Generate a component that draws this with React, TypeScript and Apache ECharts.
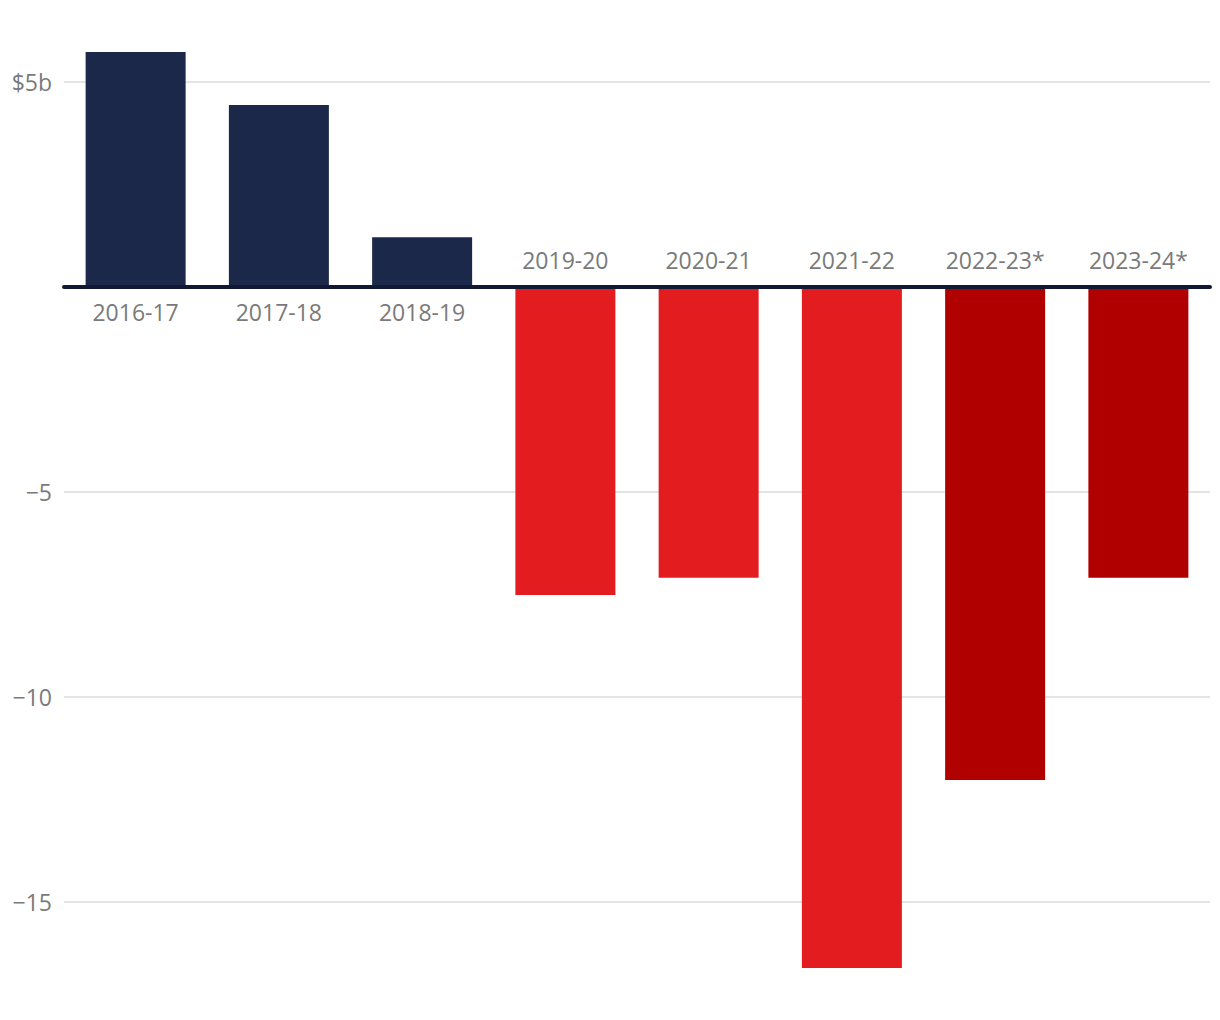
import React, { useEffect, useRef } from "react";
import * as echarts from "echarts";

const categories = ["2016-17", "2017-18", "2018-19", "2019-20", "2020-21", "2021-22", "2022-23*", "2023-24*"];
const values = [5.72, 4.43, 1.2, -7.52, -7.1, -16.62, -12.03, -7.1];
const barColors = ["#1b2849", "#1b2849", "#1b2849", "#e31c1f", "#e31c1f", "#e31c1f", "#b00000", "#b00000"];
const tickValues = [-15, -10, -5, 0, 5];
const gridValues = [-15, -10, -5, 5];

const FONT = "'Open Sans', sans-serif";
const TEXT = "#7a7a7a";

export default function App() {
  const ref = useRef<HTMLDivElement>(null);
  useEffect(() => {
    const chart = echarts.init(ref.current!, null, { renderer: "svg" });
    chart.setOption({
      animation: false,
      grid: { left: 64, right: 10, top: 40.5, bottom: 36.3, containLabel: false },
      xAxis: {
        type: "category",
        data: categories,
        z: 10,
        axisLine: { show: true, onZero: true, lineStyle: { color: "#111a35", width: 4 } },
        axisTick: { show: false },
        axisLabel: { show: false },
        splitLine: { show: false },
      },
      yAxis: {
        type: "value",
        min: -17,
        max: 6,
        axisLine: { show: false },
        axisTick: { show: false },
        splitLine: { show: false },
        axisLabel: {
          customValues: tickValues,
          margin: 12,
          color: TEXT,
          fontSize: 23,
          fontFamily: FONT,
          formatter: (v: number) => (v === 0 ? "" : v > 0 ? "$" + v + "b" : "\u2212" + Math.abs(v)),
        },
      },
      series: [
        {
          type: "bar",
          barWidth: 100,
          z: 2,
          data: values.map((v, i) => ({ value: v, itemStyle: { color: barColors[i] } })),
          markLine: {
            silent: true,
            symbol: "none",
            label: { show: false },
            lineStyle: { color: "#e4e4e4", width: 2, type: "solid" },
            data: gridValues.map((g) => ({ yAxis: g })),
            z: 1,
          },
        },
        {
          type: "bar",
          barWidth: 100,
          barGap: "-100%",
          z: 3,
          silent: true,
          itemStyle: { color: "transparent" },
          data: values.map((v, i) => ({
            value: 0,
            label: {
              show: true,
              position: v >= 0 ? "bottom" : "top",
              distance: v >= 0 ? 14 : 15,
              formatter: categories[i],
              color: TEXT,
              fontSize: 23,
              fontFamily: FONT,
            },
          })),
        },
      ],
    });
    return () => chart.dispose();
  }, []);
  return (
    <div
      ref={ref}
      style={{ position: "fixed", left: 0, top: 0, width: 1220, height: 1020, background: "#ffffff" }}
    />
  );
}
